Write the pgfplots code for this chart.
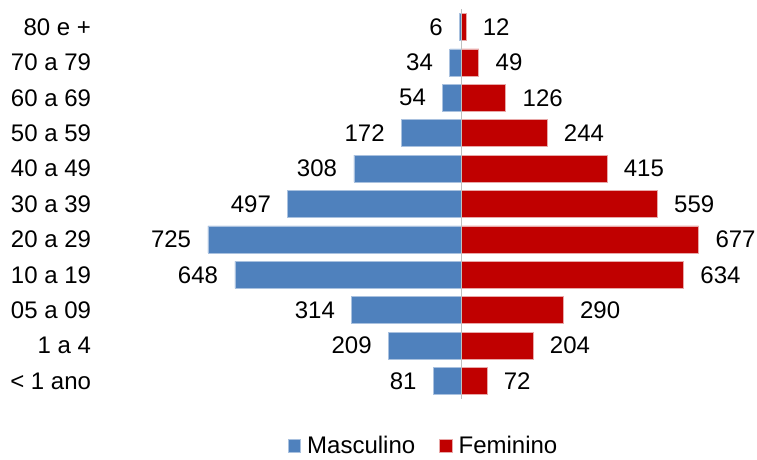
\documentclass[border=0pt]{standalone}
\usepackage{pgfplots}
\usepackage{pgfplotstable}
\pgfplotsset{compat=1.18}
\usepackage{fontspec}
\setmainfont{Liberation Sans}
\definecolor{masc}{HTML}{4F81BD}
\definecolor{mascb}{HTML}{A9C1DF}
\definecolor{fem}{HTML}{C00000}
\definecolor{femb}{HTML}{E8A8A8}
\definecolor{cline}{HTML}{BFBFBF}
\pgfplotstableread{
y m f
0 81 72
1 209 204
2 314 290
3 648 634
4 725 677
5 497 559
6 308 415
7 172 244
8 54 126
9 34 49
10 6 12
}\pyr
\begin{document}
\begin{tikzpicture}[x=1pt,y=1pt]
\begin{axis}[
  at={(111.7pt,60.3pt)}, anchor=south west,
  scale only axis, width=630pt, height=389.4pt,
  xmin=-1000, xmax=800, ymin=-0.5, ymax=10.5,
  xbar, bar shift=0pt, bar width=27pt,
  axis line style={draw=none},
  major tick length=0pt, tick style={draw=none},
  xtick=\empty,
  ytick={0,...,10},
  yticklabels={{< 1 ano},{1 a 4},{05 a 09},{10 a 19},{20 a 29},{30 a 39},{40 a 49},{50 a 59},{60 a 69},{70 a 79},{80 e +}},
  yticklabel style={anchor=east, inner sep=0pt, xshift=-20.5pt},
  font=\fontsize{24}{28}\selectfont,
  /pgf/number format/assume math mode=true,
  legend columns=2,
  legend style={draw=none, at={(axis description cs:0.4935,-0.1215)}, anchor=center,
    font=\fontsize{24}{28}\selectfont,
    nodes={inner sep=0pt},
    /tikz/every odd column/.append style={column sep=6pt},
    /tikz/every even column/.append style={column sep=24pt}},
  legend image code/.code={\fill[#1] (0pt,-6.3pt) rectangle (12.6pt,6.3pt);},
  clip=false,
]
\addplot[fill=masc, draw=mascb, line width=0.75pt,
  nodes near coords={\pgfmathprintnumber{\pgfplotspointmeta}},
  every node near coord/.append style={anchor=east, inner sep=0pt, xshift=-16.5pt, text=black},
  point meta=explicit]
  table[x expr=-\thisrow{m}, y=y, meta=m]{\pyr};
\addlegendentry{Masculino}
\addplot[fill=fem, draw=femb, line width=0.75pt,
  nodes near coords={\pgfmathprintnumber{\pgfplotspointmeta}},
  every node near coord/.append style={anchor=west, inner sep=0pt, xshift=16.5pt, text=black},
  point meta=explicit]
  table[x=f, y=y, meta=f]{\pyr};
\addlegendentry{Feminino}
\draw[cline, line width=1.5pt] (axis cs:0,-0.5) -- (axis cs:0,10.5);
\end{axis}
\pgfresetboundingbox
\path[use as bounding box] (0,0) rectangle (757,459);
\end{tikzpicture}
\end{document}
